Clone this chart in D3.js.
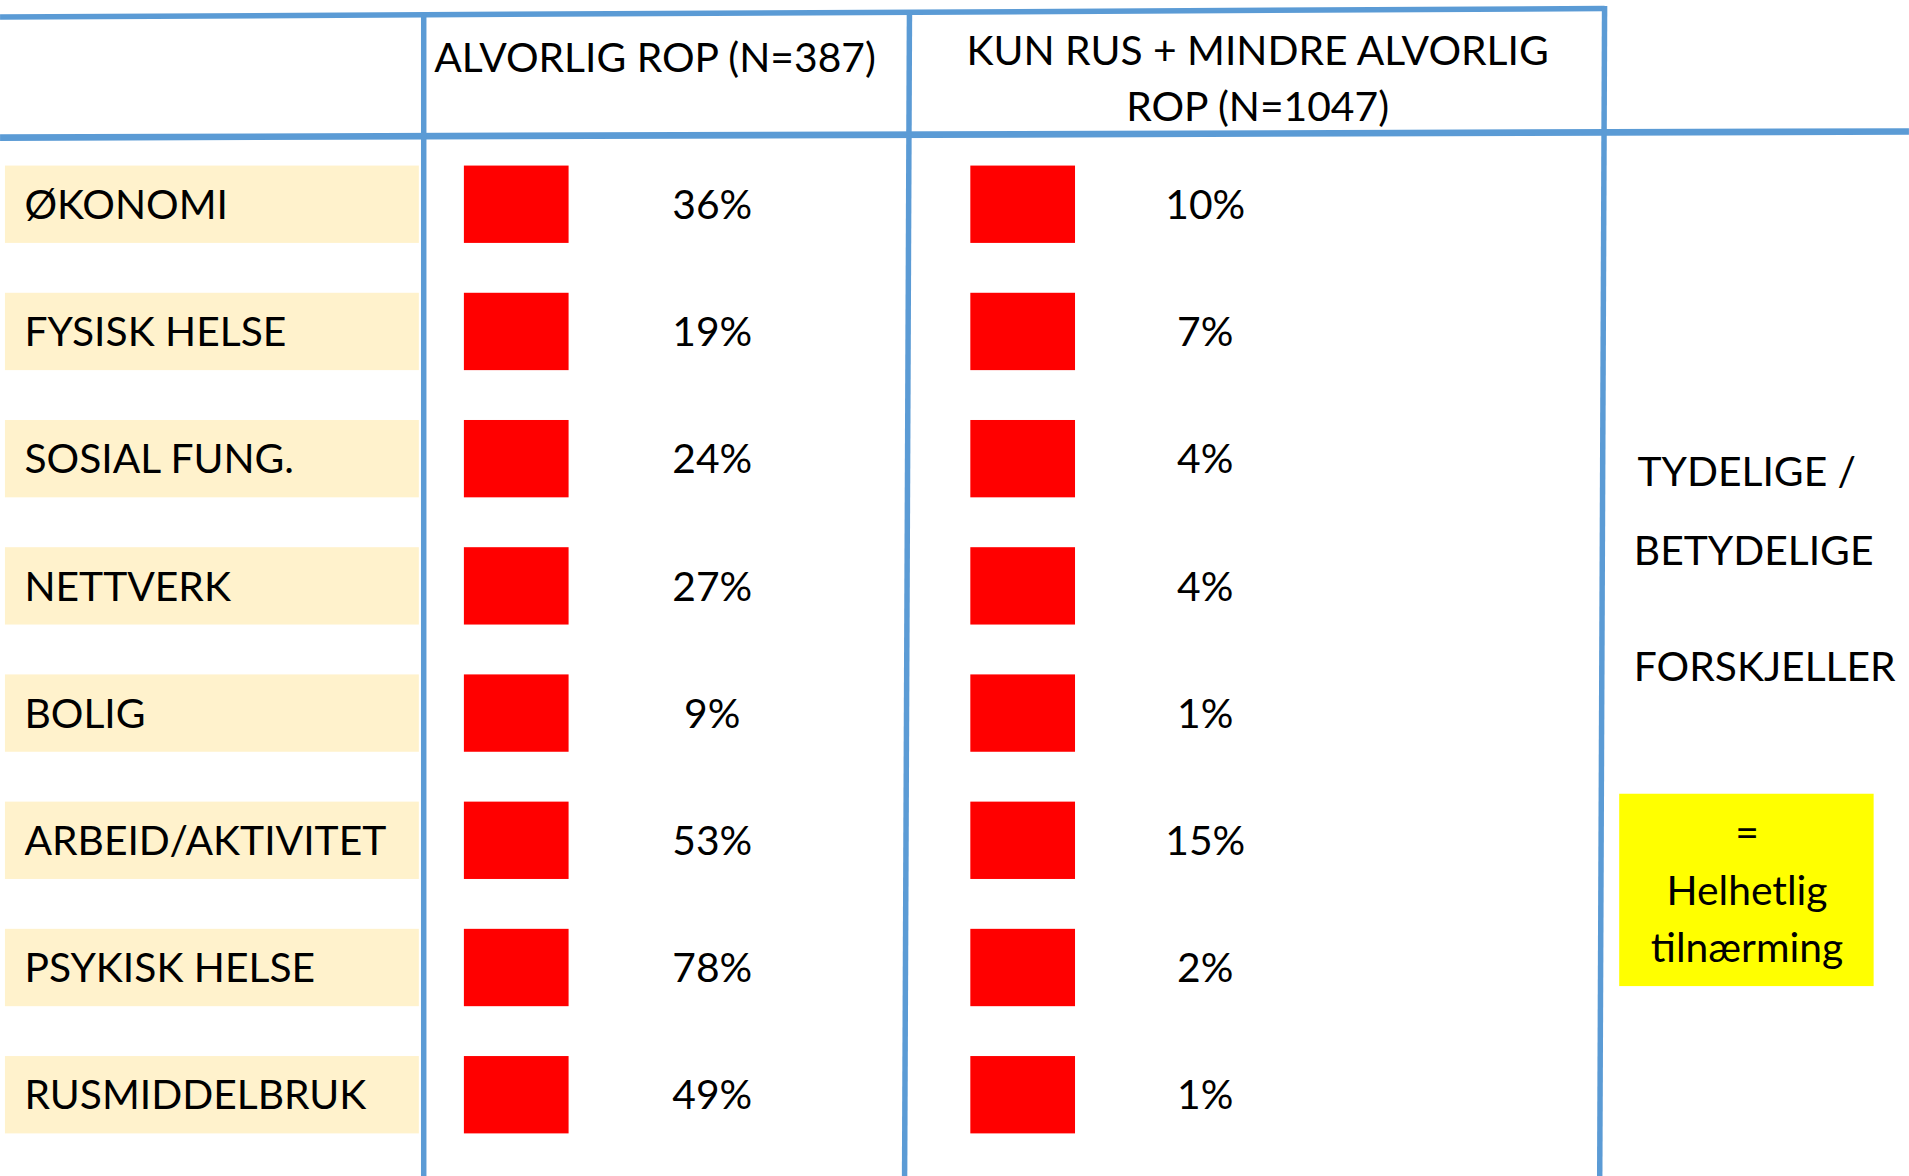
<!DOCTYPE html>
<html>
<head>
<meta charset="utf-8">
<script src="https://cdn.jsdelivr.net/npm/d3@7"></script>
<style>
  body { margin: 0; background: #fff; }
  svg { display: block; }
  text { font-family: Lato, "Noto Sans", sans-serif; fill: #000; }
</style>
</head>
<body>
<svg width="1909" height="1176" viewBox="0 0 1568 966"></svg>
<script>
// data
var categories = ["ØKONOMI", "FYSISK HELSE", "SOSIAL FUNG.", "NETTVERK", "BOLIG", "ARBEID/AKTIVITET", "PSYKISK HELSE", "RUSMIDDELBRUK"];
var alvorlig = [36, 19, 24, 27, 9, 53, 78, 49];
var kunRus = [10, 7, 4, 4, 1, 15, 2, 1];
var header1 = ["ALVORLIG ROP (N=387)"];
var header2 = ["KUN RUS + MINDRE ALVORLIG", "ROP (N=1047)"];
var noteLines = ["TYDELIGE /", "BETYDELIGE", "FORSKJELLER"];
var boxLines = ["=", "Helhetlig", "tilnærming"];

var svg = d3.select("svg");
var fontSize = 33.5;
var blue = "#5b9bd5";

// rows
var y = d3.scaleBand()
    .domain(categories)
    .range([136, 931])
    .paddingInner(0.392)
    .paddingOuter(0);

// columns: label box, marker + percentage for the two groups
var col = {
  labelX: 4, labelW: 340,
  markW: 86,
  mark: {alvorlig: 381, kunRus: 797},
  pct: {alvorlig: 585, kunRus: 990}
};

var rows = categories.map(function(c, i) {
  return {cat: c, alvorlig: alvorlig[i], kunRus: kunRus[i]};
});

// cream label boxes
var lab = svg.selectAll(".label")
  .data(rows)
  .enter().append("g")
    .attr("class", "label");

lab.append("rect")
    .attr("x", col.labelX)
    .attr("y", function(d) { return y(d.cat); })
    .attr("width", col.labelW)
    .attr("height", y.bandwidth())
    .attr("fill", "#fff2cc");

lab.append("text")
    .attr("x", 20)
    .attr("y", function(d) { return y(d.cat) + y.bandwidth() / 2; })
    .attr("dy", "0.36em")
    .attr("font-size", fontSize)
    .text(function(d) { return d.cat; });

// red markers and percentages for each group
["alvorlig", "kunRus"].forEach(function(key) {
  svg.selectAll(".mark-" + key)
    .data(rows)
    .enter().append("rect")
      .attr("class", "mark-" + key)
      .attr("x", col.mark[key])
      .attr("y", function(d) { return y(d.cat); })
      .attr("width", col.markW)
      .attr("height", y.bandwidth())
      .attr("fill", "#ff0000");

  svg.selectAll(".pct-" + key)
    .data(rows)
    .enter().append("text")
      .attr("class", "pct-" + key)
      .attr("x", col.pct[key])
      .attr("y", function(d) { return y(d.cat) + y.bandwidth() / 2; })
      .attr("dy", "0.36em")
      .attr("text-anchor", "middle")
      .attr("font-size", fontSize)
      .text(function(d) { return d[key] + "%"; });
});

// table frame (slightly skewed like the hand drawn slide)
var lines = [
  [0, 14, 1318, 7],
  [0, 113, 1568, 108],
  [348, 12, 348, 966],
  [747, 10, 743, 966],
  [1318, 5, 1314, 966]
];
svg.selectAll(".grid")
  .data(lines)
  .enter().append("line")
    .attr("class", "grid")
    .attr("x1", function(d) { return d[0]; })
    .attr("y1", function(d) { return d[1]; })
    .attr("x2", function(d) { return d[2]; })
    .attr("y2", function(d) { return d[3]; })
    .attr("stroke", blue)
    .attr("stroke-width", function(d, i) { return i == 1 ? 5.5 : 4.5; });

// column headers
svg.selectAll(".h1")
  .data(header1)
  .enter().append("text")
    .attr("x", 538)
    .attr("y", 47)
    .attr("dy", "0.36em")
    .attr("text-anchor", "middle")
    .attr("font-size", fontSize)
    .text(function(d) { return d; });

svg.selectAll(".h2")
  .data(header2)
  .enter().append("text")
    .attr("x", 1033)
    .attr("y", function(d, i) { return 41 + i * 46; })
    .attr("dy", "0.36em")
    .attr("text-anchor", "middle")
    .attr("font-size", fontSize)
    .text(function(d) { return d; });

// note on the right
var noteY = [387, 452, 547];
svg.selectAll(".note")
  .data(noteLines)
  .enter().append("text")
    .attr("x", function(d, i) { return i == 0 ? 1345 : 1342; })
    .attr("y", function(d, i) { return noteY[i]; })
    .attr("dy", "0.36em")
    .attr("font-size", fontSize)
    .text(function(d) { return d; });

// yellow box
svg.append("rect")
    .attr("x", 1330)
    .attr("y", 652)
    .attr("width", 209)
    .attr("height", 158)
    .attr("fill", "#ffff00");

svg.selectAll(".box")
  .data(boxLines)
  .enter().append("text")
    .attr("x", 1435)
    .attr("y", function(d, i) { return 684 + i * 47; })
    .attr("dy", "0.36em")
    .attr("text-anchor", "middle")
    .attr("font-size", fontSize)
    .text(function(d) { return d; });
</script>
</body>
</html>
